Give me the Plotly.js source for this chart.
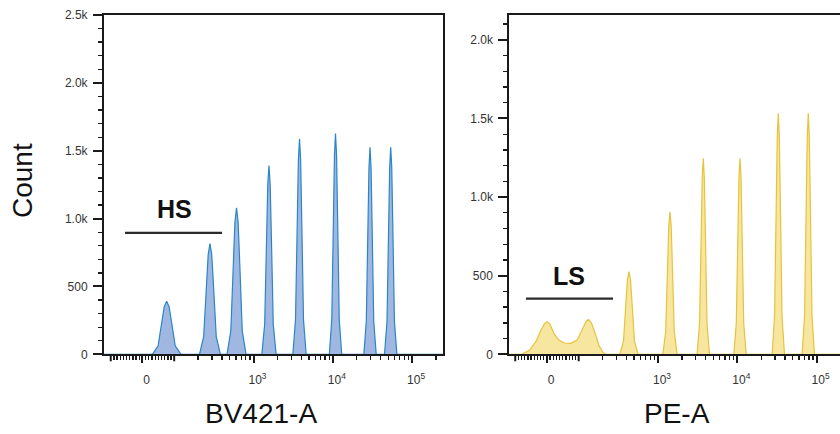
<!DOCTYPE html>
<html>
<head>
<meta charset="utf-8">
<script src="https://cdn.plot.ly/plotly-3.0.1.min.js"></script>
<style>html,body{margin:0;padding:0;background:#fff;}#chart{width:840px;height:434px;}</style>
</head>
<body>
<div id="chart"></div>
<script>
// x values are in display units of a biexponential scale: 100 units per decade, 10^3 at 300, 0 at 160
const xTickVals = [160, 300, 400, 500];
const xTickText = ["0", "10<sup>3</sup>", "10<sup>4</sup>", "10<sup>5</sup>"];
const xUnlabeledMajor = [120, 200]; // -100 and 100

// Left panel (BV421-A) peaks
const bvCenters = [190.5, 245.1, 278.6, 319.5, 358, 403.4, 446.9, 473];
const bvHeights = [390, 816, 1080, 1390, 1588, 1627, 1525, 1525];
const bvHalfWidths = [18, 13.2, 12, 9, 8.4, 7.8, 7.8, 7.8];

// Right panel (PE-A): low-signal region points and peaks
const peLowX = [128, 138, 146, 152, 157, 160, 164, 169, 175, 182, 190, 198, 204, 209, 212, 216, 221, 226, 231, 234];
const peLowY = [0, 25, 80, 150, 195, 207, 190, 130, 90, 72, 70, 90, 150, 205, 222, 200, 130, 50, 10, 0];
const peCenters = [263.4, 315.1, 357.1, 403.4, 451.7, 489.5];
const peHeights = [526, 907, 1247, 1247, 1533, 1533];
const peHalfWidths = [11.5, 9, 7.8, 7.8, 7.8, 7.8];

// Shape of one histogram peak (relative offset, relative level)
const peakShapeOffset = [-1, -0.6, -0.35, -0.17, 0, 0.17, 0.35, 0.6, 1];
const peakShapeLevel = [0, 0.16, 0.6, 0.9, 1, 0.9, 0.6, 0.16, 0];

const yTickValsL = [0, 500, 1000, 1500, 2000, 2500];
const yTickTextL = ["0", "500", "1.0k", "1.5k", "2.0k", "2.5k"];
const yTickValsR = [0, 500, 1000, 1500, 2000];
const yTickTextR = ["0", "500", "1.0k", "1.5k", "2.0k"];

function buildPeaks(centers, heights, widths, startX, startY, endX) {
  const xs = startX.slice(), ys = startY.slice();
  for (let i = 0; i < centers.length; i++) {
    for (let k = 0; k < peakShapeOffset.length; k++) {
      xs.push(centers[i] + peakShapeOffset[k] * widths[i]);
      ys.push(heights[i] * peakShapeLevel[k]);
    }
  }
  xs.push(endX); ys.push(0);
  return {xs, ys};
}

// minor tick positions on the display scale
function disp(v) {
  if (Math.abs(v) <= 100) return 160 + 0.4 * v;
  return v > 0 ? 100 * Math.log10(v) : 320 - 100 * Math.log10(-v);
}
const minorX = [];
for (let v = -90; v <= 90; v += 10) if (v !== 0) minorX.push(disp(v));
[100, 1000, 10000, 100000].forEach(function (dec) {
  for (let m = 2; m <= 9; m++) minorX.push(disp(m * dec));
});

const left = buildPeaks(bvCenters, bvHeights, bvHalfWidths, [111], [0], 540);
const right = buildPeaks(peCenters, peHeights, peHalfWidths, [112].concat(peLowX), [0].concat(peLowY), 530);

const traces = [
  {x: left.xs, y: left.ys, xaxis: 'x', yaxis: 'y', type: 'scatter', mode: 'lines',
   fill: 'tozeroy', fillcolor: 'rgba(110,145,210,0.66)', line: {color: '#2a86c6', width: 1.2},
   hoverinfo: 'skip', showlegend: false},
  {x: right.xs, y: right.ys, xaxis: 'x2', yaxis: 'y2', type: 'scatter', mode: 'lines',
   fill: 'tozeroy', fillcolor: 'rgba(242,214,100,0.62)', line: {color: '#e6c33c', width: 1.2},
   hoverinfo: 'skip', showlegend: false}
];

const tickFont = {family: 'Liberation Sans, Arial, sans-serif', size: 12, color: '#333'};
function xAxis(domain, range, anchor, mirror) {
  return {
    domain: domain, range: range, anchor: anchor, type: 'linear',
    showline: true, linecolor: '#1a1a1a', linewidth: 2, mirror: mirror,
    showgrid: false, zeroline: false,
    tickmode: 'array', tickvals: xTickVals, ticktext: xTickText,
    ticks: 'outside', ticklen: 7, tickwidth: 2, tickcolor: '#1a1a1a',
    tickfont: tickFont, ticklabelshift: 4, ticklabelstandoff: 6,
    minor: {tickmode: 'array', tickvals: minorX, ticks: 'outside', ticklen: 4, tickwidth: 1.3, tickcolor: '#1a1a1a'},
    fixedrange: true
  };
}
function yAxis(domain, range, anchor, vals, text, mirror) {
  return {
    domain: domain, range: range, anchor: anchor,
    showline: true, linecolor: '#1a1a1a', linewidth: 2, mirror: mirror,
    showgrid: false, zeroline: false,
    tickmode: 'array', tickvals: vals, ticktext: text,
    ticks: 'outside', ticklen: 9, tickwidth: 2, tickcolor: '#1a1a1a',
    tickfont: tickFont, ticklabelstandoff: 3,
    minor: {tickmode: 'linear', tick0: 0, dtick: 100, ticks: 'outside', ticklen: 4, tickwidth: 1.3, tickcolor: '#1a1a1a'},
    fixedrange: true
  };
}

const yDom = [1 - 354.3 / 434, 1 - 15 / 434];
const tickPaperLen = 7 / 434;
const shapes = [
  {type: 'line', xref: 'x', yref: 'y', x0: 138, x1: 260.3, y0: 895, y1: 895, line: {color: '#2b2b2b', width: 2.2}},
  {type: 'line', xref: 'x2', yref: 'y2', x0: 133.5, x1: 243.3, y0: 354, y1: 354, line: {color: '#2b2b2b', width: 2.2}}
];
['x', 'x2'].forEach(function (ax) {
  xUnlabeledMajor.forEach(function (v) {
    shapes.push({type: 'line', xref: ax, yref: 'paper', x0: v, x1: v, y0: yDom[0], y1: yDom[0] - tickPaperLen,
      line: {color: '#1a1a1a', width: 2}});
  });
});

const layout = {
  width: 840, height: 434,
  margin: {l: 0, r: 0, t: 0, b: 0},
  paper_bgcolor: '#ffffff', plot_bgcolor: '#ffffff',
  showlegend: false,
  xaxis: xAxis([104 / 840, 443.3 / 840], [111.5, 539.3], 'y', true),
  yaxis: yAxis(yDom, [0, 2500], 'x', yTickValsL, yTickTextL, true),
  xaxis2: xAxis([509.3 / 840, 1], [112.5, 529.5], 'y2', true),
  yaxis2: yAxis(yDom, [0, 2158], 'x2', yTickValsR, yTickTextR, false),
  shapes: shapes,
  annotations: [
    {text: '<b>HS</b>', xref: 'x', yref: 'y', x: 201, y: 1070, showarrow: false, xanchor: 'center', yanchor: 'middle',
     font: {family: 'Liberation Sans, Arial, sans-serif', size: 25, color: '#111'}},
    {text: '<b>LS</b>', xref: 'x2', yref: 'y2', x: 187.8, y: 498, showarrow: false, xanchor: 'center', yanchor: 'middle',
     font: {family: 'Liberation Sans, Arial, sans-serif', size: 25, color: '#111'}},
    {text: 'Count', xref: 'paper', yref: 'paper', x: 22 / 840, y: 1 - 181 / 434, textangle: -90, showarrow: false,
     xanchor: 'center', yanchor: 'middle', font: {family: 'Liberation Sans, Arial, sans-serif', size: 28, color: '#111'}},
    {text: 'BV421-A', xref: 'paper', yref: 'paper', x: 261 / 840, y: 1 - 413 / 434, showarrow: false,
     xanchor: 'center', yanchor: 'middle', font: {family: 'Liberation Sans, Arial, sans-serif', size: 28, color: '#111'}},
    {text: 'PE-A', xref: 'paper', yref: 'paper', x: 677 / 840, y: 1 - 413 / 434, showarrow: false,
     xanchor: 'center', yanchor: 'middle', font: {family: 'Liberation Sans, Arial, sans-serif', size: 28, color: '#111'}}
  ]
};

Plotly.newPlot('chart', traces, layout, {staticPlot: true, displayModeBar: false});
</script>
</body>
</html>
